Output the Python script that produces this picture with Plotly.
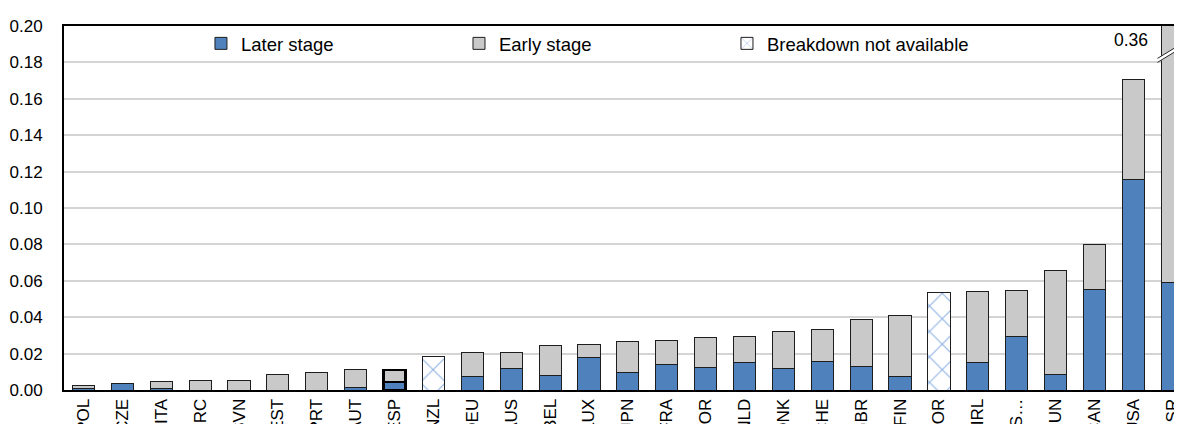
import plotly.graph_objects as go

categories = ["POL", "CZE", "ITA", "GRC", "SVN", "EST", "PRT", "AUT", "ESP", "NZL",
              "DEU", "AUS", "BEL", "LUX", "JPN", "FRA", "NOR", "NLD", "DNK", "CHE",
              "GBR", "FIN", "KOR", "IRL", "S…", "HUN", "CAN", "USA", "ISR"]

later_stage = [0.0008, 0.0035, 0.0008, None, None, None, None, 0.0012, 0.0045, None,
               0.0075, 0.0119, 0.0079, 0.0180, 0.0095, 0.0139, 0.0124, 0.0153, 0.0117, 0.0155,
               0.0130, 0.0073, None, 0.0151, 0.0292, 0.0086, 0.0551, 0.1158, 0.0588]

early_stage = [0.0018, 0.0003, 0.0041, 0.0051, 0.0053, 0.0086, 0.0098, 0.0099, 0.0064, None,
               0.0133, 0.0089, 0.0164, 0.0070, 0.0169, 0.0134, 0.0164, 0.0142, 0.0205, 0.0180,
               0.0255, 0.0334, None, 0.0391, 0.0252, 0.0571, 0.0250, 0.0548, 0.3012]

breakdown_na = [None] * 9 + [0.0182] + [None] * 12 + [0.0538] + [None] * 6

isr_total_label = "0.36"
highlight = "ESP"

y_ticks = [0.00, 0.02, 0.04, 0.06, 0.08, 0.10, 0.12, 0.14, 0.16, 0.18, 0.20]

BLUE = "#4f81bd"
GRAY = "#c9c9c9"
EDGE = "#1e1e1e"
FONT = "Liberation Sans, Arial, sans-serif"

line_w = [2.6 if c == highlight else 1 for c in categories]
line_c = ["#000000" if c == highlight else EDGE for c in categories]

fig = go.Figure()
fig.add_trace(go.Bar(
    x=categories, y=later_stage, name="Later stage", legend="legend",
    marker=dict(color=BLUE, line=dict(color=line_c, width=line_w)),
    width=0.57,
))
fig.add_trace(go.Bar(
    x=categories, y=early_stage, name="Early stage", legend="legend2",
    marker=dict(color=GRAY, line=dict(color=line_c, width=line_w)),
    width=0.57,
))
fig.add_trace(go.Bar(
    x=categories, y=breakdown_na, name="Breakdown not available", legend="legend3",
    marker=dict(color="white", line=dict(color=EDGE, width=1),
                pattern=dict(shape="x", fgcolor="#8fb3e3", bgcolor="white",
                             size=18, solidity=0.12, fillmode="replace")),
    width=0.57,
))

n = len(categories)
legend_common = dict(orientation="h", yanchor="middle", y=0.951, xanchor="left",
                     bgcolor="rgba(0,0,0,0)", font=dict(family=FONT, size=18.5, color="#000"),
                     itemwidth=30)
# the page body adds an 8 px offset, margins compensate for it
fig.update_layout(
    width=1174, height=424,
    margin=dict(l=56, r=0, t=18, b=41.5, autoexpand=False),
    paper_bgcolor="white", plot_bgcolor="white",
    barmode="stack", bargap=0.43,
    font=dict(family=FONT, size=17, color="#000"),
    showlegend=True,
    legend=dict(x=0.1225, **legend_common),
    legend2=dict(x=0.3533, **legend_common),
    legend3=dict(x=0.593, **legend_common),
    xaxis=dict(
        type="category", range=[-0.5, n - 0.75], automargin=False,
        showline=True, linecolor="#000", linewidth=2, mirror=True,
        ticks="", tickangle=-90, showgrid=False, layer="below traces",
        tickfont=dict(family=FONT, size=17, color="#000"),
    ),
    yaxis=dict(
        range=[0, 0.2], tickvals=y_ticks, tickformat=".2f", automargin=False,
        showline=True, linecolor="#000", linewidth=2,
        showgrid=True, gridcolor="#d4d4d4", gridwidth=1.5,
        ticks="", ticklabelstandoff=16, zeroline=False, layer="below traces",
        tickfont=dict(family=FONT, size=17, color="#000"),
    ),
)

# value label for the truncated ISR bar
fig.add_annotation(x=n - 2.05, y=0.1922, xref="x", yref="y", text=isr_total_label,
                   showarrow=False, font=dict(family=FONT, size=17.5, color="#000"))

# axis-break marker on the ISR bar
x0, x1 = n - 1 - 0.38, n - 1 + 0.35
y0, y1 = 0.1800, 0.1895
fig.add_shape(type="line", xref="x", yref="y", x0=x0, y0=y0 + 0.001, x1=x1, y1=y1 + 0.001,
              line=dict(color="white", width=4))
fig.add_shape(type="line", xref="x", yref="y", x0=x0, y0=y0, x1=x1, y1=y1,
              line=dict(color="#222", width=1))
fig.add_shape(type="line", xref="x", yref="y", x0=x0, y0=y0 + 0.0022, x1=x1, y1=y1 + 0.0022,
              line=dict(color="#222", width=1))

fig.write_html("out.html")
